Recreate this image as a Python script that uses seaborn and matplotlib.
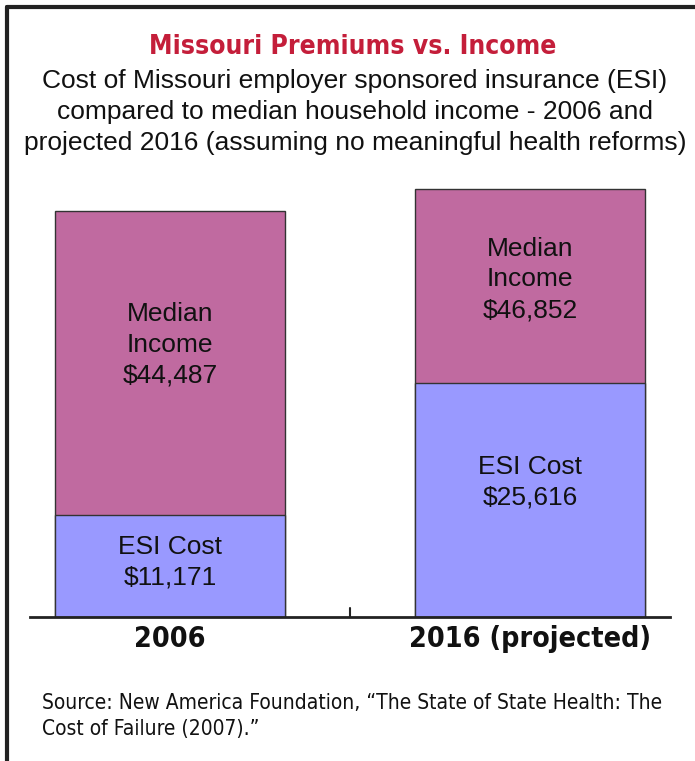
import matplotlib
matplotlib.use('Agg')
import matplotlib.pyplot as plt
import seaborn as sns
from matplotlib import font_manager

#Data
years = ['2006', '2016 (projected)']
medianIncome = [44487, 46852]
esiCost = [11171, 25616]
incomeLabels = ['Median\nIncome\n$44,487', 'Median\nIncome\n$46,852']
esiLabels = ['ESI Cost\n$11,171', 'ESI Cost\n$25,616']

#Label placement (data units)
incomeLabelY = [29800, 37000]
esiLabelY = [6000, 14800]

sns.set_style('white')
plt.rcParams['font.family'] = ['Liberation Sans', 'DejaVu Sans']

#Look for condensed faces, fall back to Liberation Sans
def isCond(f):
    return ('Condensed' in f.fname or 'Narrow' in f.fname) and f.style == 'normal'
condFiles = [f for f in font_manager.fontManager.ttflist if isCond(f) and f.weight in ('bold', 700)]
condReg = [f for f in font_manager.fontManager.ttflist if isCond(f) and f.weight in ('normal', 400, 'regular')]
if condFiles:
    boldProp = font_manager.FontProperties(fname = condFiles[0].fname)
    titleSize, tickSize = 19, 20.5
else:
    boldProp = font_manager.FontProperties(family = 'Liberation Sans', weight = 'bold')
    titleSize, tickSize = 19, 20.5
if condReg:
    srcProp = font_manager.FontProperties(fname = condReg[0].fname)
    srcSize = 15
else:
    srcProp = font_manager.FontProperties(family = 'Liberation Sans')
    srcSize = 14.5

fig = plt.figure(figsize = (6.95, 7.61), dpi = 100)
ax = fig.add_axes([30/695, 1 - 617/761, 640/695, 438/761])

#Median income drawn behind, ESI cost in front (overlapping, not stacked)
sns.barplot(x = years, y = medianIncome, color = '#C06AA0', saturation = 1, width = 0.64,
            edgecolor = '#333333', linewidth = 1, ax = ax)
sns.barplot(x = years, y = esiCost, color = '#9999FF', saturation = 1, width = 0.64,
            edgecolor = '#333333', linewidth = 1, ax = ax)

for i in range(len(years)):
    ax.text(i, esiLabelY[i], esiLabels[i], ha = 'center', va = 'center',
            fontsize = 19, linespacing = 1.36, color = '#111111')
    ax.text(i, incomeLabelY[i], incomeLabels[i], ha = 'center', va = 'center',
            fontsize = 19, linespacing = 1.36, color = '#111111')

ax.set_xlim(-0.389, 1.389)
ax.set_ylim(0, 48000)
ax.set_yticks([])
ax.set_xticks([0, 1])
ax.set_xticklabels(years)
for lab in ax.get_xticklabels():
    lab.set_fontproperties(boldProp)
    lab.set_fontsize(tickSize)
    lab.set_color('#111111')
ax.tick_params(axis = 'x', length = 0, pad = 6)
for side in ['top', 'right', 'left']:
    ax.spines[side].set_visible(False)
ax.spines['bottom'].set_color('#222222')
ax.spines['bottom'].set_linewidth(2)
ax.plot([0.5, 0.5], [0, 1000], color = '#222222', linewidth = 1.5, clip_on = False)
ax.set_xlabel('')
ax.set_ylabel('')

#Frame lines on left and top
fig.add_artist(plt.Line2D([7/695, 7/695], [0, 1 - 7/761], color = '#222222', linewidth = 3))
fig.add_artist(plt.Line2D([7/695, 1], [1 - 7/761, 1 - 7/761], color = '#222222', linewidth = 3))

fig.text(353/695, 1 - 47/761, 'Missouri Premiums vs. Income', ha = 'center', va = 'center',
         fontproperties = boldProp, fontsize = titleSize, color = '#C41E3A')
fig.text(355/695, 1 - 112/761,
         'Cost of Missouri employer sponsored insurance (ESI)\ncompared to median household income - 2006 and\nprojected 2016 (assuming no meaningful health reforms)',
         ha = 'center', va = 'center', fontsize = 19, linespacing = 1.36, color = '#111111')
fig.text(42/695, 1 - 716/761, 'Source: New America Foundation, \u201cThe State of State Health: The\nCost of Failure (2007).\u201d',
         ha = 'left', va = 'center', fontproperties = srcProp, fontsize = srcSize,
         linespacing = 1.35, color = '#111111')

plt.savefig('out.png', dpi = 100)
